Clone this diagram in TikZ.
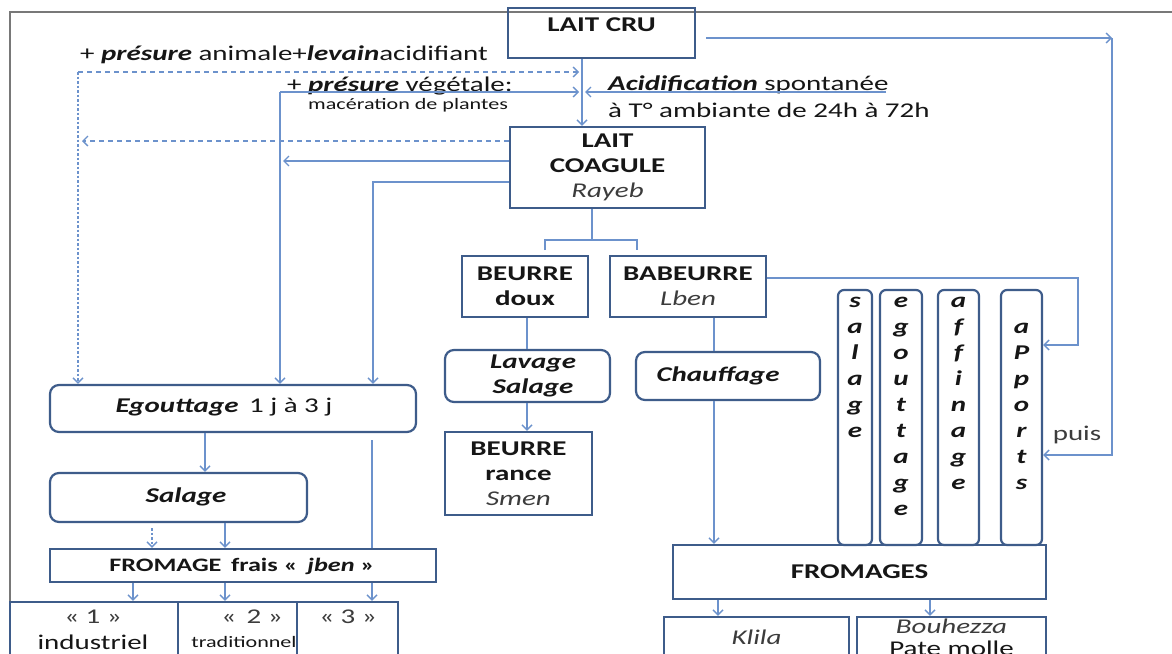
\documentclass[tikz,border=0pt]{standalone}
\usepackage{fontspec}
\setmainfont{Carlito}[FakeStretch=1.38]
\usetikzlibrary{arrows.meta,calc}
\definecolor{boxc}{RGB}{62,92,138}
\definecolor{linec}{RGB}{108,146,204}
\definecolor{framec}{RGB}{120,120,120}
\definecolor{txtc}{RGB}{22,22,22}
\definecolor{txtg}{RGB}{60,60,60}
\begin{document}
\begin{tikzpicture}[x=1pt,y=-1pt,
  bx/.style={draw=boxc, line width=2.2pt, rectangle, inner sep=0pt, text=txtc, align=center, font=\fontsize{21}{25}\selectfont},
  rbx/.style={bx, rounded corners=9pt},
  vbx/.style={bx, rounded corners=6pt},
  tx/.style={inner sep=0pt, text=txtc, font=\fontsize{21}{25}\selectfont},
  stx/.style={tx, font=\fontsize{16}{19}\selectfont},
  vtx/.style={inner sep=0pt, text=txtc, align=center, anchor=north, font=\fontsize{21}{26}\selectfont\bfseries\itshape},
  ln/.style={draw=linec, line width=1.6pt},
  arr/.style={ln, -{Straight Barb[length=5pt,width=10pt,line width=1.4pt]}},
  dsh/.style={dash pattern=on 5pt off 4pt},
  dtt/.style={dash pattern=on 2.5pt off 2pt}
]
\useasboundingbox (0,0) rectangle (1172,653);
\clip (0,0) rectangle (1172,653);
\fill[white] (0,0) rectangle (1172,653);
\draw[framec, line width=2pt] (10,670) -- (10,12) -- (1190,12);

% boxes
\node[bx, minimum width=187, minimum height=50] (cru) at (601.5,33) {};
\node[tx, font=\fontsize{21}{25}\selectfont\bfseries] (crut) at (601.5,25) {LAIT CRU};
\node[bx, minimum width=195, minimum height=81] (coag) at (607.5,167.5) {\textbf{LAIT}\\\textbf{COAGULE}\\\textcolor{txtg}{\textit{Rayeb}}};
\node[bx, minimum width=126, minimum height=61] (beurre) at (525,286.5) {\textbf{BEURRE}\\\textbf{doux}};
\node[bx, minimum width=156, minimum height=61] (babeurre) at (688,286.5) {\textbf{BABEURRE}\\\textcolor{txtg}{\textit{Lben}}};
\node[rbx, minimum width=165, minimum height=52] (lavage) at (527.5,376) {};
\node[tx, align=center] (lavaget) at (533,376) {\textbf{\textit{Lavage}}\\\textbf{\textit{Salage}}};
\node[bx, minimum width=147, minimum height=83] (rance) at (518.5,473.5) {\textbf{BEURRE}\\\textbf{rance}\\\textcolor{txtg}{\textit{Smen}}};
\node[rbx, minimum width=184, minimum height=48] (chauff) at (728,376) {};
\node[tx] (chafft) at (718,376) {\textbf{\textit{Chauffage}}};

\node[vbx, minimum width=34, minimum height=255] (vsal) at (855,417.5) {};
\node[vbx, minimum width=42, minimum height=255] (vego) at (901,417.5) {};
\node[vbx, minimum width=41, minimum height=255] (vaff) at (958.5,417.5) {};
\node[vbx, minimum width=41, minimum height=255] (apports) at (1021.5,417.5) {};
\node[vtx] (vsalt) at (855,297) {s\\a\\l\\a\\g\\e};
\node[vtx] (vegot) at (901,297) {e\\g\\o\\u\\t\\t\\a\\g\\e};
\node[vtx] (vafft) at (958.5,297) {a\\f\\f\\i\\n\\a\\g\\e};
\node[vtx] (vappt) at (1021.5,323) {a\\P\\p\\o\\r\\t\\s};

\node[bx, minimum width=373, minimum height=54] (fromages) at (859.5,572) {\textbf{FROMAGES}};
\node[bx, minimum width=185, minimum height=53] (klila) at (756.5,643.5) {};
\node[tx, text=txtg] (klilat) at (756.5,637) {\textit{Klila}};
\node[bx, minimum width=189, minimum height=53] (bouh) at (951.5,643.5) {};
\node[tx, text=txtg] (bouht) at (951.5,626) {\textit{Bouhezza}};
\node[tx] (bouht2) at (951.5,648) {Pate molle};

\node[rbx, minimum width=366, minimum height=47] (egout) at (233,408.5) {};
\node[tx] (egoutt) at (224,407) {\textbf{\textit{Egouttage}}\enspace 1 j à 3 j};
\node[rbx, minimum width=257, minimum height=49] (salL) at (178.5,497.5) {};
\node[tx] (salLt) at (186,497) {\textbf{\textit{Salage}}};
\node[bx, minimum width=386, minimum height=33] (frais) at (243,565.5) {};
\node[tx, font=\fontsize{19}{22}\selectfont] (fraist) at (242,566) {\textbf{FROMAGE\enspace frais «\enspace\textit{jben} »}};
\node[bx, minimum width=168, minimum height=68] (b1) at (94,636) {};
\node[bx, minimum width=119, minimum height=68] (b2) at (237.5,636) {};
\node[bx, minimum width=101, minimum height=68] (b3) at (347.5,636) {};
\node[tx, text=txtg] (b1a) at (93,617) {« 1 »};
\node[tx] (b1b) at (93,642) {industriel};
\node[tx, text=txtg] (b2a) at (252,617) {«\enspace 2 »};
\node[stx] (b2b) at (244,642) {traditionnel};
\node[tx, text=txtg] (b3a) at (348,617) {« 3 »};

% top texts
\node[tx, anchor=west] (t1) at (80,55) {+ \textbf{\textit{présure}} animale+\textbf{\textit{levain}}acidifiant};
\node[tx, anchor=west] (t2) at (287,86) {+ \textbf{\textit{présure}} végétale:};
\node[stx, anchor=west] (t3) at (308,105) {macération de plantes};
\node[tx, anchor=west] (t4) at (608,85) {\textbf{\textit{Acidification}} spontanée};
\node[tx, anchor=west] (t5) at (608,110) {à T° ambiante de 24h à 72h};
\node[tx, text=txtg] (puis) at (1077,435) {puis};

% coordinates
\coordinate (xm) at (582,0);
\coordinate (xd) at (78,72);
\coordinate (xdt) at (579,72);
\coordinate (xv) at (280,92);
\coordinate (xvt) at (579,92);
\coordinate (xa) at (886,92);
\coordinate (xat) at (585,92);
\coordinate (y141) at (82,141);
\coordinate (y161) at (283,161);
\coordinate (xr) at (373,182);
\coordinate (bm) at (592,240);
\coordinate (bl) at (545,250);
\coordinate (brr) at (637,250);
\coordinate (xb) at (527,0);
\coordinate (xc) at (714,0);
\coordinate (br) at (1078,278);
\coordinate (br2) at (1078,345);
\coordinate (cr) at (1112,38);
\coordinate (cr2) at (1112,455);
\coordinate (x205) at (205,0);
\coordinate (x372t) at (372,440);
\coordinate (x152) at (152,528);
\coordinate (x225) at (225,0);
\coordinate (x133) at (133,0);
\coordinate (x372) at (372,0);
\coordinate (x718) at (718,0);
\coordinate (x930) at (930,0);

% connectors
\draw[arr] (cru.south -| xm) -- (coag.north -| xm);
\draw[arr, dsh] (xd) -- (xdt);
\draw[arr, dtt] (xd) -- (egout.north -| xd);
\draw[arr] (xv) -- (xvt);
\draw[arr] (xv) -- (egout.north -| xv);
\draw[arr] (xa) -- (xat);
\draw[arr, dsh] (coag.west |- y141) -- (y141);
\draw[arr] (coag.west |- y161) -- (y161);
\draw[arr] (coag.west |- xr) -- (xr) -- (egout.north -| xr);
\draw[ln] (coag.south -| bm) -- (bm);
\draw[ln] (bl) -- (bl |- bm) -- (brr |- bm) -- (brr);
\draw[ln] (beurre.south -| xb) -- (lavage.north -| xb);
\draw[arr] (lavage.south -| xb) -- (rance.north -| xb);
\draw[ln] (babeurre.south -| xc) -- (chauff.north -| xc);
\draw[arr] (chauff.south -| xc) -- (fromages.north -| xc);
\draw[arr] (babeurre.east |- br) -- (br) -- (br2) -- (apports.east |- br2);
\draw[arr] ($(cru.east |- cr)+(10,0)$) -- (cr);
\draw[arr] (cr) -- (cr2) -- (apports.east |- cr2);
\draw[arr] (egout.south -| x205) -- (salL.north -| x205);
\draw[ln] (x372t) -- (frais.north -| x372t);
\draw[arr, dtt] (x152) -- (frais.north -| x152);
\draw[arr] (salL.south -| x225) -- (frais.north -| x225);
\draw[arr] (frais.south -| x133) -- (b1.north -| x133);
\draw[arr] (frais.south -| x225) -- (b2.north -| x225);
\draw[arr] (frais.south -| x372) -- (b3.north -| x372);
\draw[arr] (fromages.south -| x718) -- (klila.north -| x718);
\draw[arr] (fromages.south -| x930) -- (bouh.north -| x930);
\end{tikzpicture}
\end{document}
